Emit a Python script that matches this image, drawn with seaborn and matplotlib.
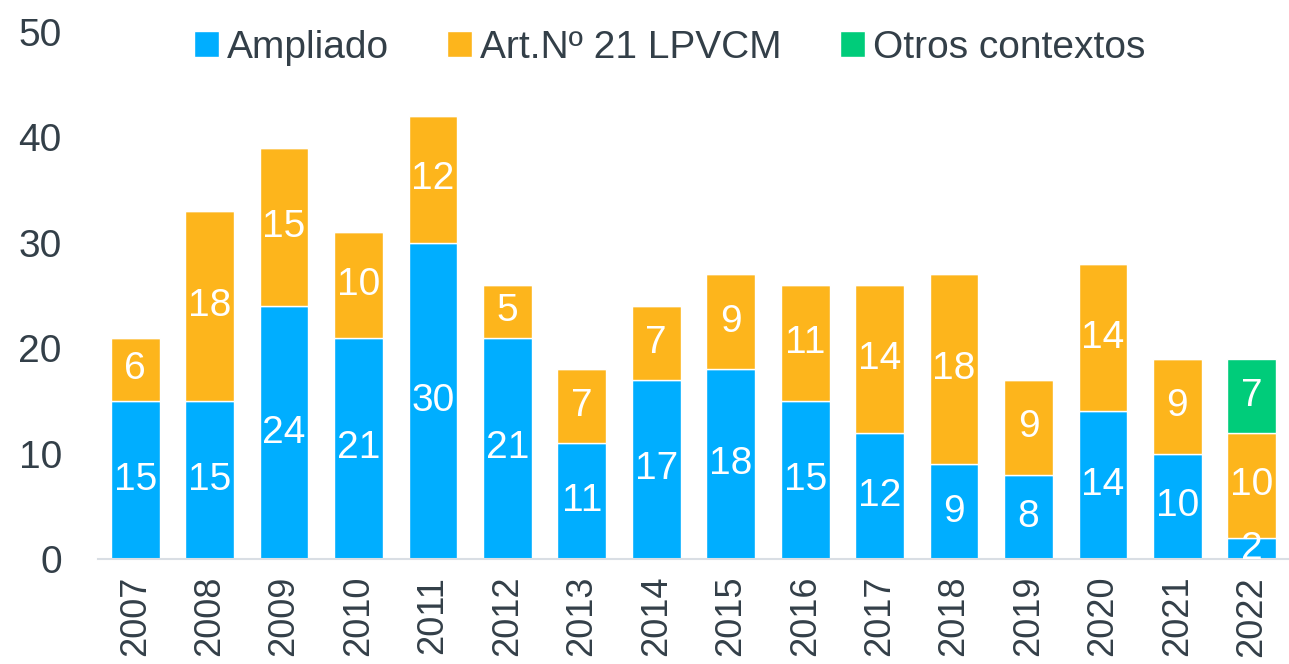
import numpy as np
import pandas as pd
import seaborn as sns
import matplotlib.pyplot as plt

# Data
years = [str(y) for y in range(2007, 2023)]
ampliado = [15, 15, 24, 21, 30, 21, 11, 17, 18, 15, 12, 9, 8, 14, 10, 2]
art21 = [6, 18, 15, 10, 12, 5, 7, 7, 9, 11, 14, 18, 9, 14, 9, 10]
otros = [0, 0, 0, 0, 0, 0, 0, 0, 0, 0, 0, 0, 0, 0, 0, 7]

series_names = ["Ampliado", "Art.Nº 21 LPVCM", "Otros contextos"]
colors = ["#00AEFF", "#FDB51C", "#00CC7A"]
text_color = "#333F48"

sns.set_style("white")
plt.rcParams["font.family"] = ["Liberation Sans", "DejaVu Sans"]

df = pd.DataFrame({"year": years, "Ampliado": ampliado,
                   "Art.Nº 21 LPVCM": art21, "Otros contextos": otros})

fig, ax = plt.subplots(figsize=(12.89, 6.64), dpi=100)
fig.subplots_adjust(left=0.076, right=1.0, bottom=0.158, top=0.952)

fs = 28
bottom = np.zeros(len(years))
for name, color in zip(series_names, colors):
    vals = df[name].to_numpy()
    sns.barplot(x="year", y=name, data=df, color=color, bottom=bottom,
                width=0.655, ax=ax, label=name, saturation=1)
    for i, v in enumerate(vals):
        if v > 0:
            ax.text(i, bottom[i] + v / 2, str(v), ha="center", va="center",
                    color="white", fontsize=fs)
    bottom = bottom + vals

ax.set_ylim(0, 50)
ax.set_xlim(-0.5, 15.5)
ax.set_yticks([0, 10, 20, 30, 40, 50])
ax.set_xlabel("")
ax.set_ylabel("")
ax.tick_params(axis="y", length=0, pad=26, labelsize=fs, labelcolor=text_color)
# year labels slightly smaller so they fit inside the figure
ax.tick_params(axis="x", length=0, pad=12, labelsize=26, labelcolor=text_color,
               rotation=90)
for s in ["top", "right", "left"]:
    ax.spines[s].set_visible(False)
ax.spines["bottom"].set_color("#D9DEE4")
ax.spines["bottom"].set_linewidth(1.5)

handles, labels = ax.get_legend_handles_labels()
ax.legend(handles, labels, loc="upper center", bbox_to_anchor=(0.48, 1.07),
          ncol=3, frameon=False, fontsize=fs, handlelength=0.65,
          handleheight=0.65, handletextpad=0.2, columnspacing=1.5,
          labelcolor=text_color)

plt.savefig("out.png", dpi=100)
